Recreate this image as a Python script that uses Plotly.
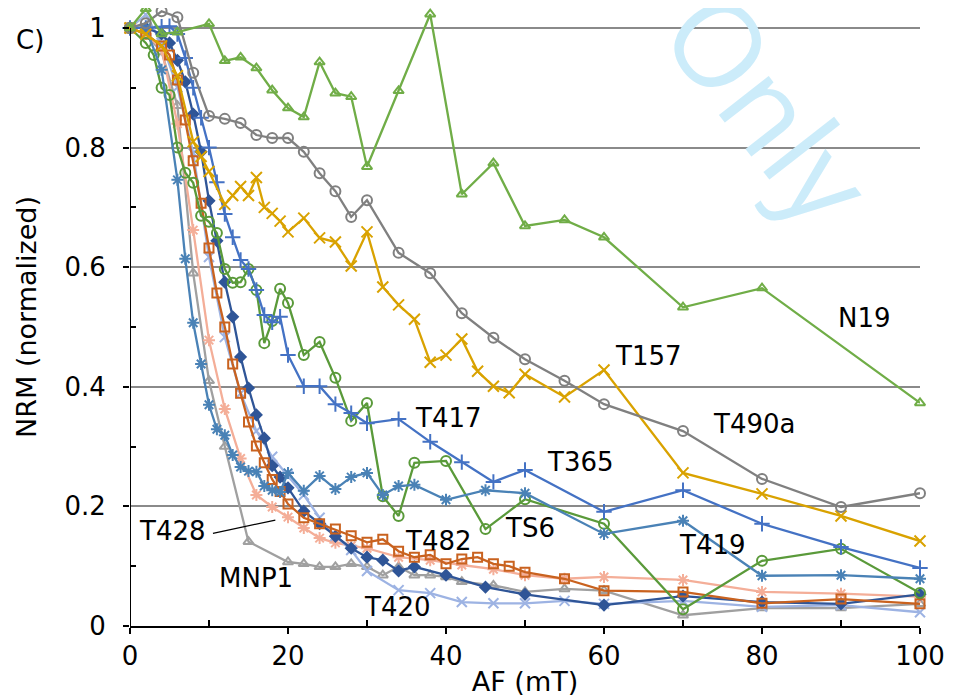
import plotly.graph_objects as go

# ---------------- data ----------------
n19_x = [0, 2, 4, 6, 10, 12, 14, 16, 18, 20, 22, 24, 26, 28, 30, 34, 38, 42, 46, 50, 55, 60, 70, 80, 100]
n19_y = [1.0, 1.032, 0.99, 0.993, 1.007, 0.945, 0.951, 0.933, 0.896, 0.866, 0.851, 0.943, 0.891, 0.885,
         0.768, 0.895, 1.023, 0.722, 0.774, 0.669, 0.679, 0.650, 0.533, 0.565, 0.373]

t490a_x = [0, 2, 4, 6, 8, 10, 12, 14, 16, 18, 20, 22, 24, 26, 28, 30, 34, 38, 42, 46, 50, 55, 60, 70, 80, 90, 100]
t490a_y = [1.0, 1.008, 1.028, 1.018, 0.925, 0.853, 0.848, 0.841, 0.821, 0.816, 0.816, 0.793, 0.757, 0.727,
           0.684, 0.712, 0.624, 0.590, 0.523, 0.482, 0.446, 0.410, 0.371, 0.326, 0.246, 0.199, 0.222]

t157_x = [0, 2, 4, 6, 8, 9, 10, 12, 13, 14, 15, 16, 17, 18, 19, 20, 22, 24, 26, 28, 30, 32, 34, 36, 38, 40,
          42, 44, 46, 48, 50, 55, 60, 70, 80, 90, 100]
t157_y = [1.0, 0.99, 0.97, 0.92, 0.81, 0.785, 0.76, 0.705, 0.72, 0.735, 0.72, 0.75, 0.70, 0.69, 0.677, 0.659,
          0.682, 0.649, 0.642, 0.602, 0.659, 0.567, 0.537, 0.513, 0.441, 0.453, 0.480, 0.426, 0.401, 0.390,
          0.421, 0.383, 0.428, 0.256, 0.221, 0.184, 0.142]

t417_x = [0, 2, 4, 5, 6, 7, 8, 9, 10, 11, 12, 13, 14, 15, 16, 17, 18, 19, 20, 22, 24, 26, 28, 30, 34, 38,
          42, 46, 50, 60, 70, 80, 90, 100]
t417_y = [1.0, 1.0, 1.002, 1.003, 0.99, 0.95, 0.90, 0.85, 0.80, 0.742, 0.689, 0.650, 0.612, 0.597, 0.562,
          0.520, 0.508, 0.517, 0.453, 0.401, 0.401, 0.371, 0.356, 0.339, 0.346, 0.308, 0.274, 0.241, 0.261,
          0.191, 0.227, 0.171, 0.132, 0.097]

t419_x = [0, 2, 4, 6, 7, 8, 9, 10, 11, 12, 13, 14, 15, 16, 17, 18, 19, 20, 22, 24, 26, 28, 30, 32, 34, 36,
          40, 45, 50, 60, 70, 80, 90, 100]
t419_y = [1.0, 1.0, 0.93, 0.746, 0.614, 0.507, 0.438, 0.370, 0.329, 0.319, 0.286, 0.266, 0.259, 0.258,
          0.234, 0.227, 0.224, 0.256, 0.226, 0.251, 0.229, 0.249, 0.256, 0.219, 0.234, 0.236, 0.211, 0.227,
          0.222, 0.154, 0.176, 0.084, 0.085, 0.079]

ts6_x = [0, 2, 3, 4, 5, 6, 7, 8, 9, 10, 11, 12, 13, 14, 15, 16, 17, 18, 19, 20, 22, 24, 26, 28, 30, 32, 34,
         36, 40, 45, 50, 60, 70, 80, 90, 100]
ts6_y = [1.0, 0.975, 0.955, 0.90, 0.888, 0.80, 0.758, 0.741, 0.686, 0.676, 0.657, 0.597, 0.574, 0.575, 0.597,
         0.562, 0.473, 0.510, 0.564, 0.540, 0.453, 0.475, 0.415, 0.343, 0.373, 0.217, 0.184, 0.273, 0.276,
         0.162, 0.212, 0.171, 0.028, 0.109, 0.129, 0.055]

t482_x = [0, 2, 4, 5, 6, 7, 8, 9, 10, 11, 12, 13, 14, 15, 16, 17, 18, 19, 20, 22, 24, 26, 28, 30, 32, 34,
          36, 38, 40, 42, 44, 46, 48, 50, 55, 60, 70, 80, 90, 100]
t482_y = [1.0, 0.99, 0.97, 0.955, 0.913, 0.846, 0.778, 0.707, 0.632, 0.557, 0.500, 0.438, 0.389, 0.341,
          0.301, 0.273, 0.245, 0.225, 0.204, 0.181, 0.171, 0.162, 0.151, 0.140, 0.145, 0.125, 0.115, 0.119,
          0.104, 0.112, 0.115, 0.104, 0.100, 0.090, 0.079, 0.059, 0.057, 0.038, 0.045, 0.037]

t365_x = [0, 2, 4, 5, 6, 7, 8, 9, 10, 11, 12, 13, 14, 15, 16, 17, 18, 19, 20, 22, 24, 26, 28, 30, 32, 34,
          36, 40, 45, 50, 60, 70, 80, 90, 100]
t365_y = [1.0, 1.0, 0.99, 0.975, 0.946, 0.91, 0.856, 0.793, 0.711, 0.644, 0.575, 0.517, 0.450, 0.398, 0.353,
          0.314, 0.268, 0.249, 0.231, 0.192, 0.171, 0.150, 0.130, 0.115, 0.110, 0.092, 0.099, 0.085, 0.065,
          0.053, 0.035, 0.050, 0.040, 0.037, 0.053]

t420_x = [0, 2, 4, 6, 8, 10, 12, 14, 16, 18, 20, 22, 24, 26, 28, 30, 34, 38, 42, 46, 50, 55, 60, 70, 80, 90, 100]
t420_y = [1.0, 1.022, 0.975, 0.901, 0.791, 0.617, 0.483, 0.389, 0.326, 0.283, 0.251, 0.219, 0.181, 0.151,
          0.127, 0.092, 0.060, 0.055, 0.040, 0.038, 0.038, 0.042, 0.037, 0.042, 0.032, 0.035, 0.023]

t428_x = [0, 2, 4, 6, 8, 10, 12, 14, 16, 18, 20, 22, 24, 26, 28, 30, 34, 38, 42, 46, 50, 55, 60, 70, 80, 90, 100]
t428_y = [1.0, 0.99, 0.965, 0.84, 0.662, 0.478, 0.363, 0.280, 0.219, 0.199, 0.182, 0.164, 0.147, 0.139,
          0.134, 0.130, 0.115, 0.110, 0.102, 0.095, 0.085, 0.079, 0.082, 0.077, 0.057, 0.054, 0.049]

mnp1_x = [0, 2, 4, 6, 8, 10, 12, 15, 20, 22, 24, 26, 28, 30, 32, 34, 36, 38, 40, 42, 46, 50, 55, 60, 70, 80, 90, 100]
mnp1_y = [1.0, 0.99, 0.96, 0.87, 0.59, 0.41, 0.30, 0.141, 0.107, 0.104, 0.099, 0.099, 0.104, 0.099, 0.085,
          0.099, 0.085, 0.085, 0.082, 0.074, 0.068, 0.057, 0.062, 0.059, 0.018, 0.030, 0.030, 0.037]

# label text and anchor points (data coordinates)
label_text = ["N19", "T157", "T490a", "T417", "T365", "TS6", "T419", "T482", "T420", "T428", "MNP1"]
label_x = [93, 65.6, 79, 40.3, 57, 50.6, 73.7, 39, 33.9, 5.4, 16]
label_y = [0.515, 0.452, 0.338, 0.348, 0.274, 0.164, 0.135, 0.142, 0.032, 0.159, 0.080]
leader_x = [10.5, 18.4]
leader_y = [0.155, 0.177]

x_ticks = [0, 20, 40, 60, 80, 100]
y_ticks = [0, 0.2, 0.4, 0.6, 0.8, 1.0]
y_tick_text = ["0", "0.2", "0.4", "0.6", "0.8", "1"]

FONT = "DejaVu Sans"
Y_TOP = 1.0334

series = [
    ("MNP1", mnp1_x, mnp1_y, "#A0A0A0", "triangle-up-open", 9),
    ("T428", t428_x, t428_y, "#F4AE98", "asterisk-open", 10),
    ("T420", t420_x, t420_y, "#9DB3E3", "x-thin-open", 10),
    ("T365", t365_x, t365_y, "#2F5597", "diamond", 8),
    ("T482", t482_x, t482_y, "#C9621F", "square-open", 9),
    ("TS6", ts6_x, ts6_y, "#5A9A3A", "circle-open", 10),
    ("T419", t419_x, t419_y, "#4A82B6", "asterisk-open", 10),
    ("T417", t417_x, t417_y, "#4472C4", "cross-thin-open", 11),
    ("T157", t157_x, t157_y, "#D9A200", "x-thin-open", 11),
    ("T490a", t490a_x, t490a_y, "#808080", "circle-open", 10),
    ("N19", n19_x, n19_y, "#70AD47", "triangle-up-open", 9),
]

fig = go.Figure()
for name, xs, ys, col, sym, sz in series:
    fig.add_trace(go.Scatter(
        x=xs, y=ys, mode="lines+markers", name=name,
        line=dict(color=col, width=2.3),
        marker=dict(symbol=sym, size=sz, color=col, line=dict(color=col, width=2)),
        cliponaxis=False, showlegend=False,
    ))

# leader line for T428 label
fig.add_trace(go.Scatter(x=leader_x, y=leader_y, mode="lines",
                         line=dict(color="black", width=1.2), showlegend=False, hoverinfo="skip"))

for t, lx, ly in zip(label_text, label_x, label_y):
    fig.add_annotation(x=lx, y=ly, xref="x", yref="y", text=t, showarrow=False,
                       xanchor="center", yanchor="middle",
                       font=dict(family=FONT, size=26, color="black"))

# panel letter
fig.add_annotation(x=-0.127, y=0.948, xref="paper", yref="paper", text="C)", showarrow=False,
                   xanchor="center", yanchor="middle",
                   font=dict(family=FONT, size=26, color="black"))

# watermark (partly cut at the top edge, as in the reference)
fig.add_annotation(x=0.81, y=0.84, xref="paper", yref="paper", text="Only", showarrow=False,
                   xanchor="center", yanchor="middle", textangle=52,
                   font=dict(family="Open Sans", size=118, color="rgb(204,236,250)"))

# y axis line from 0 to 1
fig.add_shape(type="line", xref="x", yref="y", x0=0, x1=0, y0=0, y1=1,
              line=dict(color="black", width=2))

fig.update_layout(
    width=961, height=698,
    margin=dict(l=122, r=49, t=0, b=80),
    plot_bgcolor="white", paper_bgcolor="white",
    font=dict(family=FONT, size=26, color="black"),
    xaxis=dict(range=[0, 100], tickvals=x_ticks, showgrid=False, zeroline=False,
               showline=True, linecolor="black", linewidth=2,
               ticks="outside", ticklen=6, tickwidth=2, tickcolor="black",
               minor=dict(tickvals=[10, 30, 50, 70, 90], ticks="inside", ticklen=6, tickwidth=2, tickcolor="black"),
               tickfont=dict(family=FONT, size=26),
               title=dict(text="AF (mT)", font=dict(family=FONT, size=27), standoff=2)),
    yaxis=dict(range=[0, Y_TOP], tickvals=y_ticks, ticktext=y_tick_text,
               showgrid=True, gridcolor="#8A8A8A", gridwidth=2, zeroline=False, showline=False,
               ticks="outside", ticklen=6, tickwidth=2, tickcolor="black",
               minor=dict(tickvals=[0.1, 0.3, 0.5, 0.7, 0.9], ticks="inside", ticklen=6, tickwidth=2, tickcolor="black", showgrid=False),
               tickfont=dict(family=FONT, size=26), ticklabelstandoff=12,
               title=dict(text="NRM (normalized)", font=dict(family=FONT, size=27), standoff=19)),
    xaxis2=dict(overlaying="x", anchor="y", range=[0, 100], tickvals=x_ticks, showticklabels=False,
                showgrid=False, zeroline=False, showline=False,
                ticks="inside", ticklen=6, tickwidth=2, tickcolor="black"),
    yaxis2=dict(overlaying="y", anchor="x", range=[0, Y_TOP], tickvals=y_ticks, showticklabels=False,
                showgrid=False, zeroline=False, showline=False,
                ticks="inside", ticklen=6, tickwidth=2, tickcolor="black"),
)

fig.write_html("out.html")
